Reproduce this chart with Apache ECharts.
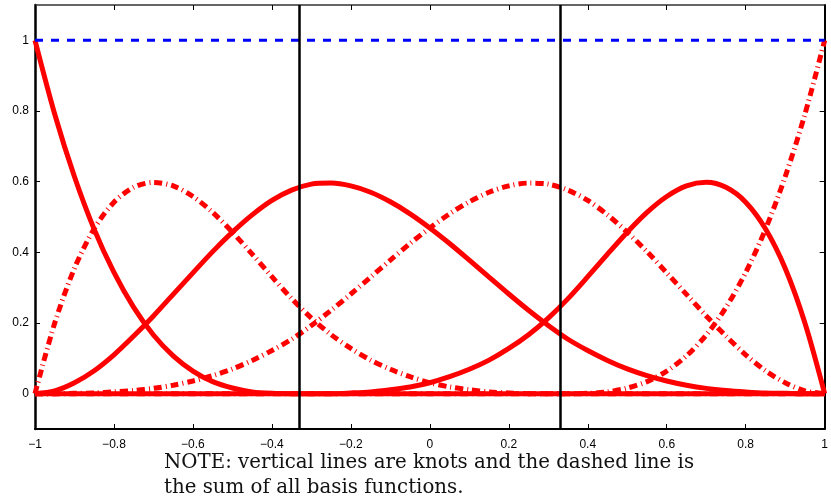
<!DOCTYPE html>
<html>
<head>
<meta charset="utf-8">
<script src="https://cdn.jsdelivr.net/npm/echarts@6/dist/echarts.min.js"></script>
<style>
  html, body { margin: 0; padding: 0; background: #fff; }
  #chart { width: 831px; height: 504px; }
</style>
</head>
<body>
<div id="chart"></div>
<script>
// sample positions along x
const xVals = [-1, -0.95, -0.9, -0.85, -0.8, -0.75, -0.7, -0.65, -0.6, -0.55, -0.5,
  -0.45, -0.4, -0.35, -0.3, -0.25, -0.2, -0.15, -0.1, -0.05, 0,
  0.05, 0.1, 0.15, 0.2, 0.25, 0.3, 0.35, 0.4, 0.45, 0.5,
  0.55, 0.6, 0.65, 0.7, 0.75, 0.8, 0.85, 0.9, 0.95, 1]

// basis functions
const b0 = [1, 0.791, 0.614, 0.465, 0.343, 0.244, 0.166, 0.107, 0.064, 0.034, 0.016,
  0.005, 0.001, 0, 0, 0, 0, 0, 0, 0, 0,
  0, 0, 0, 0, 0, 0, 0, 0, 0, 0,
  0, 0, 0, 0, 0, 0, 0, 0, 0, 0]
const b1 = [0, 0.200, 0.355, 0.467, 0.542, 0.584, 0.598, 0.588, 0.558, 0.513, 0.457,
  0.395, 0.331, 0.269, 0.214, 0.167, 0.128, 0.095, 0.069, 0.048, 0.031,
  0.019, 0.011, 0.005, 0.002, 0, 0, 0, 0, 0, 0,
  0, 0, 0, 0, 0, 0, 0, 0, 0, 0]
const b2 = [0, 0.008, 0.031, 0.065, 0.110, 0.163, 0.220, 0.281, 0.342, 0.402, 0.457,
  0.506, 0.547, 0.576, 0.593, 0.596, 0.588, 0.570, 0.543, 0.509, 0.469,
  0.425, 0.378, 0.330, 0.282, 0.236, 0.193, 0.154, 0.122, 0.094, 0.070,
  0.051, 0.036, 0.024, 0.015, 0.009, 0.005, 0.002, 0.001, 0, 0]
const b3 = [0, 0, 0.001, 0.002, 0.005, 0.009, 0.015, 0.024, 0.036, 0.051, 0.070,
  0.094, 0.122, 0.154, 0.193, 0.236, 0.282, 0.330, 0.378, 0.425, 0.469,
  0.509, 0.543, 0.570, 0.588, 0.596, 0.593, 0.576, 0.547, 0.506, 0.457,
  0.402, 0.342, 0.281, 0.220, 0.163, 0.110, 0.065, 0.031, 0.008, 0]
const b4 = [0, 0, 0, 0, 0, 0, 0, 0, 0, 0, 0,
  0, 0, 0, 0, 0, 0.002, 0.005, 0.011, 0.019, 0.031,
  0.048, 0.069, 0.095, 0.128, 0.167, 0.214, 0.269, 0.331, 0.395, 0.457,
  0.513, 0.558, 0.588, 0.598, 0.584, 0.542, 0.467, 0.355, 0.200, 0]
const b5 = [0, 0, 0, 0, 0, 0, 0, 0, 0, 0, 0,
  0, 0, 0, 0, 0, 0, 0, 0, 0, 0,
  0, 0, 0, 0, 0, 0, 0, 0.001, 0.005, 0.016,
  0.034, 0.064, 0.107, 0.166, 0.244, 0.343, 0.465, 0.614, 0.791, 1]

// sum of all basis functions (dashed)
const sumX = [-1, 1]
const sumY = [1, 1]

// knots (vertical lines)
const knots = [-0.3333, 0.3333]

const yTicks = [0, 0.2, 0.4, 0.6, 0.8, 1]

const fmt = v => String(+v.toFixed(2)).replace('-', '\u2212')

const pairs = (xs, ys) => xs.map((x, i) => [x, ys[i]])

const solid = { color: '#ff0000', width: 5, type: 'solid' }
const dashDot = { color: '#ff0000', width: 5, type: [8, 4, 1, 4], cap: 'butt' }

const basis = [
  { data: b0, style: solid },
  { data: b1, style: dashDot },
  { data: b2, style: solid },
  { data: b3, style: dashDot },
  { data: b4, style: solid },
  { data: b5, style: dashDot }
]

const chart = echarts.init(document.getElementById('chart'))

const tickIn = { show: true, inside: true, length: 5, lineStyle: { color: '#000', width: 1 } }
const line = (w, c) => ({ show: true, onZero: false, lineStyle: { color: c || '#000', width: w } })

chart.setOption({
  animation: false,
  grid: { left: 35, right: 3, top: 5, bottom: 75 },
  xAxis: [{
    type: 'value',
    min: -1,
    max: 1,
    interval: 0.2,
    position: 'bottom',
    axisLine: line(2),
    axisTick: tickIn,
    splitLine: { show: false },
    axisLabel: {
      color: '#000', fontSize: 12, fontFamily: 'Liberation Sans', margin: 10,
      formatter: fmt
    }
  }, {
    type: 'value',
    min: -1,
    max: 1,
    interval: 0.2,
    position: 'top',
    axisLine: line(1.5, '#333'),
    axisTick: tickIn,
    axisLabel: { show: false },
    splitLine: { show: false }
  }],
  yAxis: [{
    type: 'value',
    min: -0.1,
    max: 1.1,
    position: 'left',
    axisLine: line(2.5),
    axisTick: Object.assign({}, tickIn, { customValues: yTicks }),
    splitLine: { show: false },
    axisLabel: {
      color: '#000', fontSize: 12, fontFamily: 'Liberation Sans', margin: 6,
      customValues: yTicks,
      formatter: fmt
    }
  }, {
    type: 'value',
    min: -0.1,
    max: 1.1,
    position: 'right',
    axisLine: line(2),
    axisTick: Object.assign({}, tickIn, { customValues: yTicks }),
    axisLabel: { show: false },
    splitLine: { show: false }
  }],
  series: basis.map(b => ({
    type: 'line',
    data: pairs(xVals, b.data),
    showSymbol: false,
    smooth: 0.3,
    lineStyle: b.style,
    z: 3
  })).concat([{
    type: 'line',
    data: pairs(sumX, sumY),
    showSymbol: false,
    lineStyle: { color: '#0000ff', width: 3, type: [8, 8] },
    z: 4,
    markLine: {
      silent: true,
      symbol: 'none',
      label: { show: false },
      lineStyle: { color: '#000', width: 2.5, type: 'solid' },
      data: knots.map(k => ({ xAxis: k }))
    }
  }]),
  graphic: [{
    type: 'text',
    left: 164,
    top: 450,
    style: {
      text: 'NOTE: vertical lines are knots and the dashed line is\nthe sum of all basis functions.',
      font: '19.8px "DejaVu Serif"',
      lineHeight: 25,
      fill: '#111'
    }
  }]
})
</script>
</body>
</html>
